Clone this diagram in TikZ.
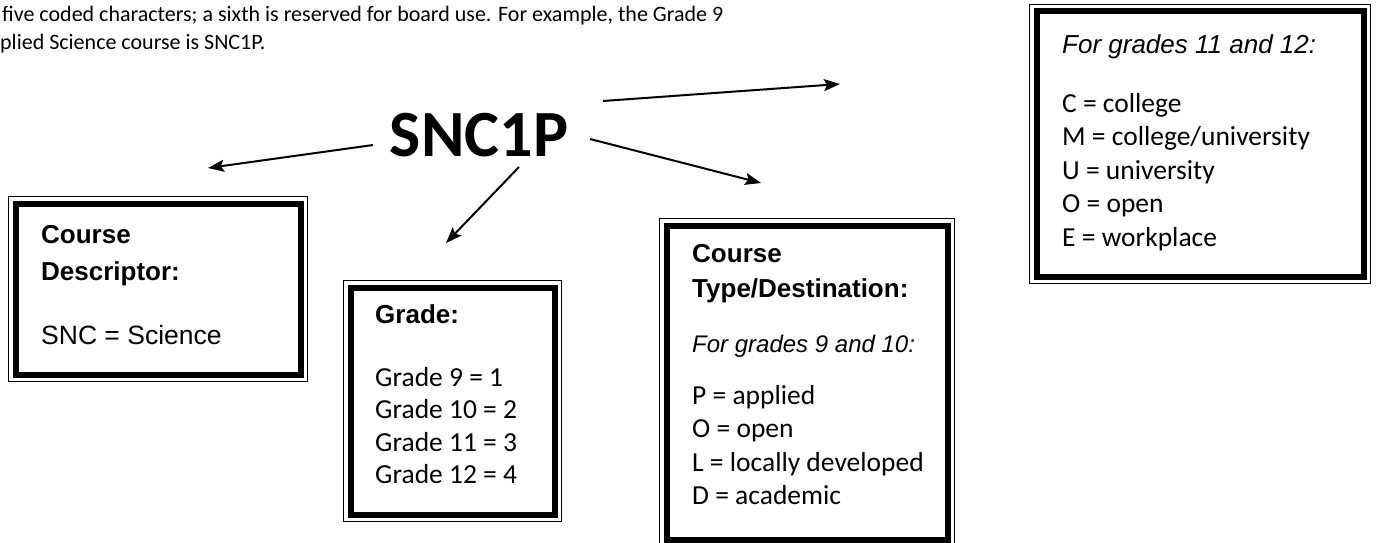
\documentclass[tikz,border=0pt]{standalone}
\usepackage{fontspec}
\setmainfont{Carlito}
\newfontfamily\arialf{Liberation Sans}
\usetikzlibrary{arrows.meta,fit}
\newcommand\dblbox[5]{%
  \coordinate (#1-nw) at (#2,#3);
  \coordinate (#1-se) at (#4,#5);
  \node[fit=(#1-nw)(#1-se), inner sep=-0.6pt, outer sep=0pt, draw, line width=1.2pt] (#1) {};
  \draw[line width=6pt] ([shift={(7.5pt,-7.5pt)}]#1-nw) rectangle ([shift={(-7.5pt,7.5pt)}]#1-se);
}
\begin{document}
\begin{tikzpicture}[x=1pt,y=-1pt,
  title/.style={anchor=base west, inner sep=0pt, font=\arialf\bfseries\fontsize{26}{30}\selectfont},
  body/.style={anchor=base west, inner sep=0pt, font=\fontsize{27.5}{33}\selectfont},
  abody/.style={anchor=base west, inner sep=0pt, font=\arialf\fontsize{26.5}{30}\selectfont},
  ital/.style={anchor=base west, inner sep=0pt, font=\arialf\itshape\fontsize{24}{28}\selectfont},
  toptext/.style={anchor=base west, inner sep=0pt, font=\fontsize{22}{27}\selectfont},
  arr/.style={line width=2pt, -{Stealth[length=16pt,width=12pt,inset=3pt]}}
]
\useasboundingbox (0,0) rectangle (1379,543);
\fill[white] (0,0) rectangle (1379,543);

% top text
\node[toptext] (t1) at (2,22) {five coded characters; a sixth is reserved for board use. For example, the Grade 9};
\node[toptext] (t2) at (0,50) {plied Science course is SNC1P.};

% central code
\node[anchor=base, inner sep=0pt, font=\bfseries\fontsize{66}{70}\selectfont] (snc) at (479,156) {SNC1P};

% boxes
\dblbox{b1}{8}{196}{308}{382}
\dblbox{b2}{343}{280}{562}{522}
\dblbox{b3}{659}{218}{955}{547}
\dblbox{b4}{1029}{4}{1371}{284}

% box 1
\node[title] (b1a) at (41,243) {Course};
\node[title] (b1b) at (41,280) {Descriptor:};
\node[abody] (b1c) at (41,344) {SNC = Science};

% box 2
\node[title] (b2a) at (375,323) {Grade:};
\node[body] (b2b) at (375,386) {Grade 9 = 1};
\node[body] (b2c) at (375,418.5) {Grade 10 = 2};
\node[body] (b2d) at (375,451) {Grade 11 = 3};
\node[body] (b2e) at (375,483.5) {Grade 12 = 4};

% box 3
\node[title] (b3a) at (692,262) {Course};
\node[title] (b3b) at (692,297) {Type/Destination:};
\node[ital] (b3c) at (692,352) {For grades 9 and 10:};
\node[body] (b3d) at (692,404) {P = applied};
\node[body] (b3e) at (692,437.5) {O = open};
\node[body] (b3f) at (692,471) {L = locally developed};
\node[body] (b3g) at (692,504.5) {D = academic};

% box 4
\node[ital, font=\arialf\itshape\fontsize{26}{30}\selectfont] (b4a) at (1062,54) {For grades 11 and 12:};
\node[body] (b4b) at (1062,112) {C = college};
\node[body] (b4c) at (1062,145.5) {M = college/university};
\node[body] (b4d) at (1062,179) {U = university};
\node[body] (b4e) at (1062,212.5) {O = open};
\node[body] (b4f) at (1062,246) {E = workplace};

% arrows
\coordinate (al-s) at (373,145); \coordinate (al-e) at (208,168);
\coordinate (ad-s) at (519,167); \coordinate (ad-e) at (446,243);
\coordinate (ar-s) at (590,139); \coordinate (ar-e) at (761,183);
\coordinate (au-s) at (603,101); \coordinate (au-e) at (840,84);
\draw[arr] (al-s) -- (al-e);
\draw[arr] (ad-s) -- (ad-e);
\draw[arr] (ar-s) -- (ar-e);
\draw[arr] (au-s) -- (au-e);
\end{tikzpicture}
\end{document}
